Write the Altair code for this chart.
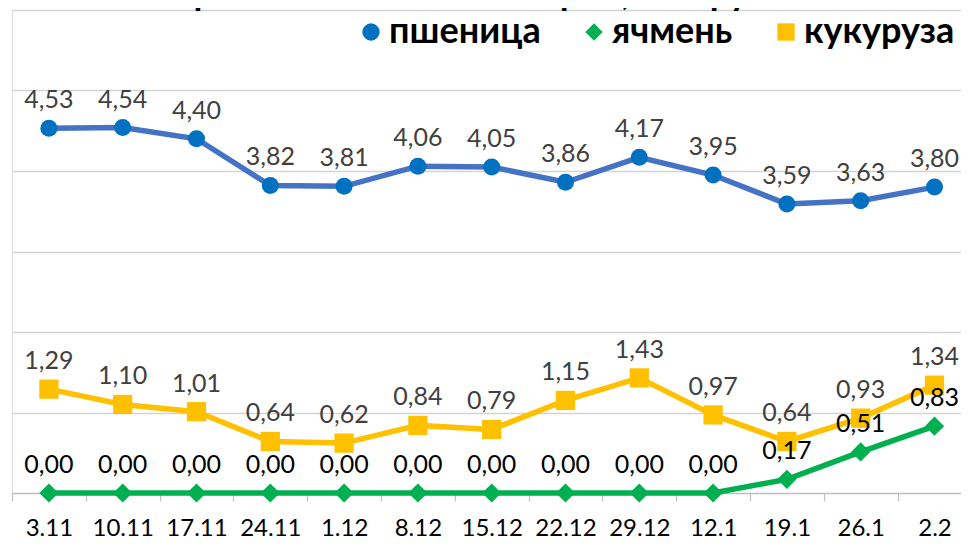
import altair as alt
import pandas as pd

dates = ["3.11", "10.11", "17.11", "24.11", "1.12", "8.12", "15.12",
         "22.12", "29.12", "12.1", "19.1", "26.1", "2.2"]
wheat = [4.53, 4.54, 4.40, 3.82, 3.81, 4.06, 4.05, 3.86, 4.17, 3.95, 3.59, 3.63, 3.80]
barley = [0.00, 0.00, 0.00, 0.00, 0.00, 0.00, 0.00, 0.00, 0.00, 0.00, 0.17, 0.51, 0.83]
corn = [1.29, 1.10, 1.01, 0.64, 0.62, 0.84, 0.79, 1.15, 1.43, 0.97, 0.64, 0.93, 1.34]

series = ["пшеница", "ячмень", "кукуруза"]
marker_colors = ["#0070C0", "#00B050", "#FFC000"]
line_colors = ["#4472C4", "#00B050", "#FFC000"]
label_colors = ["#404040", "#000000", "#404040"]
shapes = ["circle", "diamond", "square"]
marker_sizes = [290, 370, 370]

title_text = "Экспортные пошлины на зерно, тыс.руб./тонна"

rows = []
for s, vals, lc, mc, tc, ms in zip(series, [wheat, barley, corn], line_colors,
                                   marker_colors, label_colors, marker_sizes):
    for d, v in zip(dates, vals):
        rows.append({
            "date": d, "value": v, "series": s,
            "label": f"{v:.2f}".replace(".", ","),
            "line_color": lc, "label_color": tc, "msize": ms,
        })
df = pd.DataFrame(rows)

FONT = "Lato"

x_enc = alt.X(
    "date:N", sort=dates, title=None,
    scale=alt.Scale(type="band", range=[0, 959.4], paddingInner=0, paddingOuter=0),
    axis=alt.Axis(labelFontSize=24, labelColor="black", labelFont=FONT,
                  labelAngle=0, tickBand="extent", tickSize=8, tickColor="#bfbfbf",
                  tickWidth=1.2, domainColor="#bfbfbf", domainWidth=1.5,
                  labelPadding=15, grid=False),
)
y_enc = alt.Y(
    "value:Q", title=None,
    scale=alt.Scale(domain=[0, 6], nice=False, zero=True),
    axis=alt.Axis(values=[1, 2, 3, 4, 5, 6], labels=False, ticks=False,
                  domain=False, grid=True, gridColor="#d4d4d4", gridWidth=1.3),
)

legend = alt.Legend(
    title=None, orient="none", legendX=341, legendY=4, direction="horizontal",
    labelFontSize=36, labelFont=FONT, labelFontWeight="bold", labelColor="black",
    symbolSize=300, symbolStrokeWidth=0, symbolOpacity=1, labelOffset=0,
    columnPadding=35, padding=0,
)

lines = alt.Chart(df).mark_line(strokeWidth=5.5).encode(
    x=x_enc, y=y_enc,
    detail="series:N",
    stroke=alt.Stroke("line_color:N", scale=None),
)

points = alt.Chart(df).mark_point(filled=True, opacity=1).encode(
    x=x_enc, y=y_enc,
    color=alt.Color("series:N", scale=alt.Scale(domain=series, range=marker_colors),
                    legend=legend),
    shape=alt.Shape("series:N", scale=alt.Scale(domain=series, range=shapes),
                    legend=legend),
    size=alt.Size("msize:Q", scale=None),
)

labels = alt.Chart(df).mark_text(fontSize=25, font=FONT, dy=-20,
                                 baseline="alphabetic").encode(
    x=x_enc, y=y_enc,
    text="label:N",
    color=alt.Color("label_color:N", scale=None),
)

chart = alt.layer(lines, points, labels).properties(
    width=949, height=483,
    title=alt.TitleParams(title_text, fontSize=36, font=FONT, fontWeight="bold",
                          color="black", anchor="middle", offset=-3, dx=6),
    autosize=alt.AutoSizeParams(type="none"),
    padding={"left": 4, "top": 2, "right": 0, "bottom": 48},
).configure_view(stroke=None).configure(font=FONT)

chart.save("out.html", embed_options={"renderer": "svg", "actions": False})
